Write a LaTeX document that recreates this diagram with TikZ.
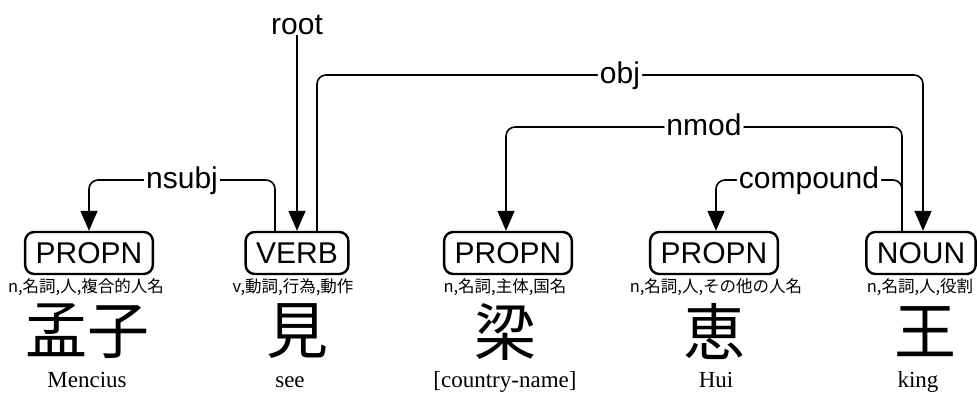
\documentclass[tikz,border=0pt]{standalone}
\usepackage{fontspec}
\setmainfont{Liberation Serif}
\setsansfont{Liberation Sans}
\newfontfamily\jpfont{Noto Sans CJK JP}
\usetikzlibrary{arrows.meta}

\begin{document}
\begin{tikzpicture}[x=1pt,y=1pt,
 tagbox/.style={draw, line width=2.4pt, rounded corners=9pt, minimum height=42pt, inner xsep=10.5pt, inner ysep=0pt, font=\sffamily\fontsize{30}{36}\selectfont},
 feat/.style={font=\jpfont\fontsize{16.5}{18}\selectfont, inner sep=0pt},
 han/.style={font=\jpfont\fontsize{62}{70}\selectfont, inner sep=0pt},
 gloss/.style={font=\rmfamily\fontsize{23}{26}\selectfont, inner sep=0pt, anchor=base},
 conn/.style={line width=1.6pt, rounded corners=9pt, -{Triangle[length=20pt,width=17pt]}},
 lab/.style={font=\sffamily\fontsize{30}{36}\selectfont, fill=white, inner xsep=2pt, inner ysep=1pt, anchor=base, yshift=-8pt}]
\useasboundingbox (0,0) rectangle (977,392);

% tags
\node[tagbox] (p1) at (89,139) {PROPN};
\node[tagbox] (vb) at (297,139) {VERB};
\node[tagbox] (p2) at (508,139) {PROPN};
\node[tagbox] (p3) at (714,139) {PROPN};
\node[tagbox] (nn) at (921,139) {NOUN};

% features
\node[feat] (f1) at (86,105) {n,名詞,人,複合的人名};
\node[feat] (f2) at (293,105) {v,動詞,行為,動作};
\node[feat] (f3) at (505,105) {n,名詞,主体,国名};
\node[feat] (f4) at (716,105) {n,名詞,人,その他の人名};
\node[feat] (f5) at (920,105) {n,名詞,人,役割};

% characters
\node[han] (h1) at (87,60.5) {孟子};
\node[han] (h2) at (297,60.5) {見};
\node[han] (h3) at (505,60.5) {梁};
\node[han] (h4) at (714,60.5) {恵};
\node[han] (h5) at (925,60.5) {王};

% glosses
\node[gloss] (g1) at (87,5) {Mencius};
\node[gloss] (g2) at (290,5) {see};
\node[gloss] (g3) at (505,5) {[country-name]};
\node[gloss] (g4) at (716,5) {Hui};
\node[gloss] (g5) at (918,5) {king};

% levels
\coordinate (Lobj) at (0,317);
\coordinate (Lnmod) at (0,265);
\coordinate (Lnsubj) at (0,212);

% root
\node[font=\sffamily\fontsize{30}{36}\selectfont, anchor=base, inner sep=1pt] (root) at (297,358) {root};
\draw[conn] (root.south) -- (vb.north);

% nsubj
\draw[conn] ([xshift=-22pt]vb.north) -- ([xshift=-22pt]vb.north |- Lnsubj)
  -- node[lab]{nsubj} (p1.north |- Lnsubj) -- (p1.north);

% obj
\draw[conn] ([xshift=20pt]vb.north) -- ([xshift=20pt]vb.north |- Lobj)
  -- node[lab]{obj} ([xshift=2pt]nn.north |- Lobj) -- ([xshift=2pt]nn.north);

% nmod
\draw[conn] ([xshift=-19pt]nn.north) -- ([xshift=-19pt]nn.north |- Lnmod)
  -- node[lab]{nmod} ([xshift=-2pt]p2.north |- Lnmod) -- ([xshift=-2pt]p2.north);

% compound
\draw[conn] ([xshift=-19pt]nn.north) -- ([xshift=-19pt]nn.north |- Lnsubj)
  -- node[lab]{compound} ([xshift=2pt]p3.north |- Lnsubj) -- ([xshift=2pt]p3.north);
\end{tikzpicture}
\end{document}
